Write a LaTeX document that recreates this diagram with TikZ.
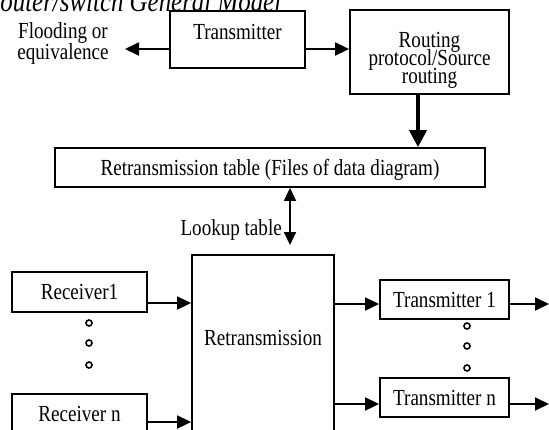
\documentclass[tikz,border=0pt]{standalone}
\usepackage{fontspec}
\setmainfont{Liberation Serif}[FakeStretch=0.83]
\usetikzlibrary{arrows.meta}
\begin{document}
\begin{tikzpicture}[x=1pt,y=-1pt,
  font=\fontsize{23}{25}\selectfont,
  box/.style={draw, line width=1.8pt, inner sep=0pt, rectangle},
  arr/.style={line width=1.8pt, -{Triangle[length=14pt,width=13pt]}},
  bigarr/.style={line width=4pt, -{Triangle[length=17pt,width=17pt]}},
  dbl/.style={line width=1.8pt, {Triangle[length=13pt,width=12pt]}-{Triangle[length=13pt,width=12pt]}},
  dot/.style={line width=1.6pt}]
\useasboundingbox (0,0) rectangle (549,429);
\fill[white] (0,0) rectangle (549,429);
\clip (0,0) rectangle (549,429);

% title
\node[anchor=base west, inner sep=0pt, font=\fontsize{30}{32}\selectfont\itshape] (title) at (-15,11) {Router/switch General Model};

% upper row
\node[box, minimum width=135pt, minimum height=57pt] (tx) at (237.5,39.5) {};
\node[inner sep=0pt] (txl) at (237.5,32) {Transmitter};
\node[box, minimum width=159pt, minimum height=84pt] (rt) at (429.5,52) {};
\node[inner sep=0pt, align=center] (rtl) at (429.5,60) {Routing\\[-7pt]protocol/Source\\[-7pt]routing};
\node[inner sep=0pt, align=center, font=\fontsize{23}{21}\selectfont] (flood) at (63,43.5) {Flooding or\\equivalence};
\coordinate (floodend) at (125,49);

% table
\node[box, minimum width=430pt, minimum height=39pt, text depth=0pt] (tbl) at (270,167.5) {Retransmission table (Files of data diagram)};
\coordinate (lk) at (290,245);
\node[anchor=east, inner sep=0pt] (lkl) at (282,229.5) {Lookup table};

% lower part
\node[box, minimum width=142pt, minimum height=190pt] (big) at (263,350) {};
\node[inner sep=0pt] (bigl) at (263,338) {Retransmission};
\node[box, minimum width=135pt, minimum height=40pt] (r1) at (79.5,292) {Receiver1};
\node[box, minimum width=135pt, minimum height=40pt] (rn) at (79.5,414) {Receiver n};
\node[box, minimum width=129pt, minimum height=39pt] (t1) at (444.5,299.5) {Transmitter 1};
\node[box, minimum width=129pt, minimum height=39pt] (tn) at (444.5,397.5) {Transmitter n};
\coordinate (out1) at (549,304);
\coordinate (outn) at (549,404);

% connectors
\draw[arr] (tx.west |- floodend) -- (floodend);
\draw[arr] (tx.east |- floodend) -- (rt.west |- floodend);
\draw[bigarr] (rt.south -| 418,0) -- (tbl.north -| 418,0);
\draw[dbl] (tbl.south -| lk) -- (lk);
\draw[arr] (r1.east |- 0,303) -- (big.west |- 0,303);
\draw[arr] (rn.east |- 0,422) -- (big.west |- 0,422);
\draw[arr] (big.east |- out1) -- (t1.west |- out1);
\draw[arr] (big.east |- outn) -- (tn.west |- outn);
\draw[arr] (t1.east |- out1) -- (out1);
\draw[arr] (tn.east |- outn) -- (outn);

% ellipsis dots
\foreach \y in {323,343,365} \draw[dot] (89,\y) circle (3pt);
\foreach \y in {326,346,368} \draw[dot] (467,\y) circle (3pt);
\end{tikzpicture}
\end{document}
